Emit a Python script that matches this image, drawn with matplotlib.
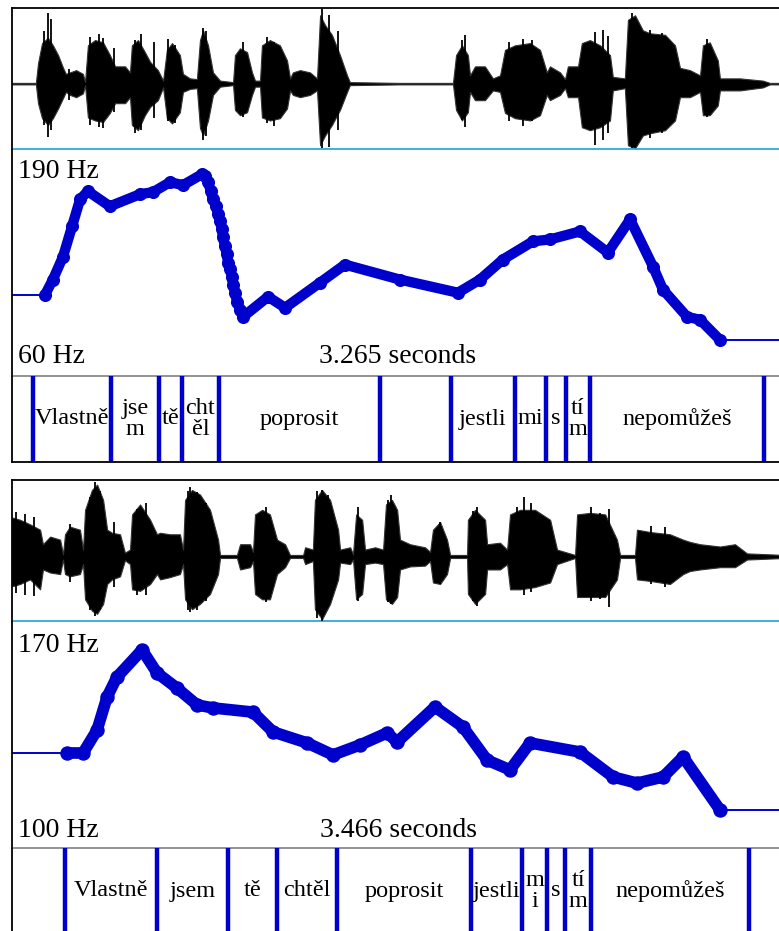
import matplotlib
matplotlib.use("Agg")
import matplotlib.pyplot as plt
import numpy as np

# ---------------- DATA ----------------
# Panel 1 (duration 3.265 s, pitch 60-190 Hz)
dur1 = 3.265
f0_range1 = (60, 190)
wave1_t = [0, 0.101, 0.110, 0.127, 0.152, 0.173, 0.195, 0.216, 0.228, 0.245, 0.271, 0.300, 0.309,
           0.321, 0.351, 0.385, 0.414, 0.436, 0.478, 0.499, 0.507, 0.533, 0.562, 0.584, 0.617, 0.639,
           0.655, 0.677, 0.710, 0.723, 0.753, 0.782, 0.795, 0.808, 0.829, 0.850, 0.880, 0.935, 0.943,
           0.964, 0.994, 1.015, 1.028, 1.049, 1.057, 1.091, 1.133, 1.163, 1.176, 1.188, 1.218, 1.260,
           1.290, 1.303, 1.324, 1.353, 1.387, 1.417, 1.429, 1.641, 1.865, 1.878, 1.903, 1.928, 1.937,
           1.958, 2.000, 2.034, 2.064, 2.085, 2.127, 2.191, 2.233, 2.262, 2.275, 2.318, 2.339, 2.351,
           2.394, 2.410, 2.444, 2.487, 2.529, 2.541, 2.592, 2.605, 2.635, 2.668, 2.698, 2.762, 2.804,
           2.825, 2.867, 2.910, 2.922, 2.951, 2.985, 2.994, 3.079, 3.176, 3.205, 3.265]
wave1_hi = [0.01, 0.01, 0.27, 0.54, 0.61, 0.51, 0.38, 0.21, 0.13, 0.15, 0.18, 0.13, 0.02,
            0.51, 0.58, 0.55, 0.38, 0.23, 0.23, 0.15, 0.51, 0.58, 0.42, 0.29, 0.18, 0.04,
            0.45, 0.54, 0.38, 0.13, 0.07, 0.06, 0.58, 0.71, 0.51, 0.15, 0.04, 0.02, 0.38,
            0.47, 0.42, 0.15, 0.04, 0.04, 0.51, 0.58, 0.51, 0.31, 0.07, 0.15, 0.18, 0.15,
            0.07, 0.91, 0.78, 0.65, 0.38, 0.11, 0.02, 0.01, 0.01, 0.38, 0.51, 0.38, 0.11,
            0.23, 0.23, 0.07, 0.11, 0.45, 0.51, 0.54, 0.45, 0.15, 0.23, 0.15, 0.06, 0.23,
            0.23, 0.54, 0.58, 0.51, 0.38, 0.09, 0.07, 0.85, 0.91, 0.71, 0.67, 0.65, 0.51,
            0.21, 0.18, 0.11, 0.51, 0.55, 0.31, 0.07, 0.07, 0.04, 0.01, 0.01]
wave1_lo = [-0.01, -0.01, -0.26, -0.46, -0.55, -0.46, -0.33, -0.19, -0.11, -0.15, -0.18, -0.13, -0.02,
            -0.45, -0.49, -0.51, -0.39, -0.26, -0.26, -0.18, -0.55, -0.62, -0.42, -0.31, -0.22, -0.05,
            -0.46, -0.53, -0.38, -0.11, -0.07, -0.06, -0.59, -0.69, -0.49, -0.15, -0.04, -0.02, -0.35,
            -0.42, -0.38, -0.15, -0.04, -0.04, -0.45, -0.49, -0.46, -0.33, -0.09, -0.15, -0.18, -0.15,
            -0.09, -0.82, -0.69, -0.55, -0.35, -0.11, -0.02, -0.01, -0.01, -0.35, -0.49, -0.38, -0.11,
            -0.22, -0.22, -0.09, -0.11, -0.39, -0.46, -0.49, -0.42, -0.15, -0.22, -0.15, -0.06, -0.18,
            -0.18, -0.58, -0.62, -0.58, -0.49, -0.09, -0.06, -0.82, -0.86, -0.69, -0.66, -0.62, -0.49,
            -0.18, -0.18, -0.11, -0.42, -0.42, -0.29, -0.09, -0.09, -0.05, -0.01, -0.01]
spike1_t = [0.135, 0.152, 0.165, 0.240, 0.330, 0.370, 0.385, 0.430, 0.520, 0.545, 0.600, 0.660,
            0.690, 0.808, 0.820, 0.975, 1.080, 1.110, 1.311, 1.340, 1.380, 1.905, 1.916, 2.100,
            2.160, 2.200, 2.466, 2.500, 2.520, 2.622, 2.700, 2.740, 2.749, 2.940]
spike1_hi = [0.70, 0.94, 0.86, 0.20, 0.62, 0.66, 0.61, 0.48, 0.58, 0.66, 0.55, 0.60,
             0.52, 0.74, 0.70, 0.55, 0.62, 0.56, 1.00, 0.92, 0.70, 0.58, 0.65, 0.56,
             0.60, 0.58, 0.69, 0.72, 0.64, 0.94, 0.72, 0.64, 0.67, 0.60]
spike1_lo = [-0.55, -0.71, -0.62, -0.22, -0.55, -0.58, -0.59, -0.38, -0.66, -0.62, -0.46, -0.50,
             -0.52, -0.75, -0.70, -0.45, -0.52, -0.56, -0.86, -0.84, -0.62, -0.48, -0.58, -0.50,
             -0.56, -0.50, -0.82, -0.75, -0.66, -0.86, -0.72, -0.62, -0.66, -0.45]

f0_1_t = [0.140, 0.173, 0.216, 0.254, 0.288, 0.321, 0.414, 0.541, 0.596, 0.668, 0.723, 0.804,
          0.816, 0.829, 0.841, 0.850, 0.863, 0.871, 0.880, 0.888, 0.892, 0.901, 0.909, 0.913,
          0.922, 0.930, 0.935, 0.943, 0.952, 0.964, 0.977, 1.083, 1.155, 1.303, 1.408, 1.641,
          1.886, 1.979, 2.076, 2.203, 2.275, 2.402, 2.520, 2.614, 2.711, 2.753, 2.855, 2.910, 2.994]
f0_1_hz = [106.6, 115.2, 128.4, 145.7, 161.2, 165.8, 157.2, 164.1, 165.3, 171.0, 169.3, 175.6,
           174.5, 171.0, 165.8, 161.2, 157.2, 152.6, 148.6, 144.0, 139.4, 134.2, 129.6, 125.0,
           121.0, 116.9, 112.3, 107.7, 102.6, 98.0, 93.9, 105.4, 99.1, 113.5, 123.8, 115.2,
           107.7, 115.2, 126.7, 137.1, 138.2, 142.8, 130.7, 149.7, 122.7, 109.5, 93.9, 92.2, 80.7]

tg1_bounds = [0.0888, 0.4187, 0.6217, 0.7189, 0.8754, 1.5563, 1.8565, 2.1272, 2.2583, 2.3428, 2.4443, 3.1802]
tg1_labels = ["Vlastně", "jse\nm", "tě", "cht\něl", "poprosit", "", "jestli", "mi", "s", "tí\nm", "nepomůžeš"]

# Panel 2 (duration 3.466 s, pitch 100-170 Hz)
dur2 = 3.466
f0_range2 = (100, 170)
wave2_t = [0, 0.036, 0.081, 0.126, 0.139, 0.171, 0.216, 0.229, 0.238, 0.260, 0.305, 0.319, 0.328,
           0.359, 0.382, 0.409, 0.427, 0.449, 0.485, 0.507, 0.530, 0.539, 0.575, 0.620, 0.651, 0.665,
           0.709, 0.754, 0.768, 0.777, 0.808, 0.844, 0.889, 0.925, 0.934, 1.010, 1.024, 1.069, 1.082,
           1.091, 1.123, 1.158, 1.190, 1.226, 1.248, 1.307, 1.316, 1.351, 1.360, 1.392, 1.428, 1.464,
           1.473, 1.518, 1.531, 1.545, 1.572, 1.585, 1.630, 1.666, 1.679, 1.706, 1.729, 1.742, 1.787,
           1.854, 1.877, 1.890, 1.922, 1.953, 1.967, 2.043, 2.047, 2.079, 2.124, 2.133, 2.191, 2.223,
           2.236, 2.281, 2.348, 2.416, 2.447, 2.528, 2.537, 2.595, 2.663, 2.716, 2.730, 2.797, 2.806,
           2.865, 2.954, 3.013, 3.044, 3.089, 3.179, 3.246, 3.300, 3.466]
wave2_hi = [0.51, 0.48, 0.42, 0.35, 0.16, 0.26, 0.22, 0.03, 0.29, 0.39, 0.35, 0.09, 0.61,
            0.87, 0.94, 0.74, 0.35, 0.31, 0.29, 0.05, 0.09, 0.55, 0.68, 0.48, 0.29, 0.31,
            0.29, 0.29, 0.09, 0.74, 0.87, 0.81, 0.61, 0.22, 0.02, 0.02, 0.16, 0.16, 0.06,
            0.55, 0.61, 0.55, 0.22, 0.16, 0.02, 0.02, 0.12, 0.09, 0.74, 0.87, 0.74, 0.35,
            0.09, 0.12, 0.03, 0.55, 0.48, 0.09, 0.12, 0.09, 0.68, 0.74, 0.61, 0.22, 0.16,
            0.12, 0.06, 0.35, 0.45, 0.22, 0.02, 0.02, 0.48, 0.61, 0.48, 0.16, 0.18, 0.09,
            0.55, 0.61, 0.61, 0.48, 0.09, 0.02, 0.55, 0.57, 0.55, 0.22, 0.02, 0.02, 0.35,
            0.32, 0.29, 0.22, 0.19, 0.16, 0.13, 0.16, 0.04, 0.02]
wave2_lo = [-0.39, -0.36, -0.30, -0.43, -0.17, -0.21, -0.23, -0.04, -0.23, -0.26, -0.23, -0.10, -0.56,
            -0.71, -0.75, -0.62, -0.36, -0.30, -0.26, -0.05, -0.10, -0.43, -0.45, -0.36, -0.23, -0.30,
            -0.27, -0.23, -0.10, -0.56, -0.69, -0.62, -0.49, -0.23, -0.02, -0.02, -0.17, -0.14, -0.06,
            -0.49, -0.56, -0.56, -0.23, -0.14, -0.02, -0.02, -0.10, -0.06, -0.69, -0.82, -0.62, -0.30,
            -0.08, -0.10, -0.04, -0.56, -0.49, -0.10, -0.08, -0.10, -0.56, -0.62, -0.53, -0.17, -0.13,
            -0.12, -0.06, -0.34, -0.36, -0.23, -0.02, -0.02, -0.49, -0.62, -0.49, -0.17, -0.17, -0.10,
            -0.43, -0.43, -0.40, -0.34, -0.10, -0.02, -0.53, -0.53, -0.53, -0.30, -0.02, -0.02, -0.30,
            -0.32, -0.36, -0.23, -0.19, -0.17, -0.14, -0.14, -0.04, -0.02]
spike2_t = [0.020, 0.060, 0.100, 0.260, 0.350, 0.373, 0.395, 0.460, 0.560, 0.600, 0.790, 0.799,
            0.830, 0.870, 1.140, 1.370, 1.392, 1.420, 1.554, 1.688, 1.700, 1.922, 2.070, 2.088,
            2.267, 2.300, 2.330, 2.600, 2.640, 2.680, 2.870, 2.930]
spike2_hi = [0.58, 0.56, 0.52, 0.42, 0.78, 0.97, 0.86, 0.45, 0.62, 0.70, 0.86, 0.91,
             0.84, 0.70, 0.65, 0.86, 0.87, 0.80, 0.65, 0.74, 0.80, 0.45, 0.60, 0.65,
             0.65, 0.78, 0.70, 0.65, 0.57, 0.62, 0.40, 0.38]
spike2_lo = [-0.48, -0.50, -0.52, -0.34, -0.70, -0.78, -0.70, -0.40, -0.50, -0.50, -0.70, -0.73,
             -0.70, -0.58, -0.60, -0.80, -0.84, -0.66, -0.58, -0.60, -0.62, -0.36, -0.58, -0.65,
             -0.43, -0.50, -0.46, -0.58, -0.56, -0.66, -0.36, -0.40]

f0_2_t = [0.247, 0.319, 0.382, 0.427, 0.471, 0.584, 0.651, 0.741, 0.831, 0.902, 1.082, 1.172,
          1.325, 1.441, 1.563, 1.684, 1.729, 1.899, 2.025, 2.133, 2.236, 2.326, 2.550, 2.699,
          2.806, 2.923, 3.013, 3.179]
f0_2_hz = [129.3, 129.3, 136.4, 146.6, 152.7, 161.1, 154.0, 149.3, 144.1, 143.2, 141.9, 135.8,
           132.4, 128.7, 131.8, 135.5, 132.7, 143.5, 137.3, 127.1, 124.1, 132.4, 129.6, 121.9,
           120.0, 121.9, 128.1, 111.7]

tg2_bounds = [0.238, 0.651, 0.970, 1.190, 1.459, 2.061, 2.290, 2.402, 2.483, 2.600, 3.309]
tg2_labels = ["Vlastně", "jsem", "tě", "chtěl", "poprosit", "jestli", "m\ni", "s", "tí\nm", "nepomůžeš"]

# ---------------- STYLE / LAYOUT ----------------
W, H = 779, 931
BLUE = "#0000cc"
SERIF = ["Liberation Serif", "DejaVu Serif"]
plt.rcParams["font.family"] = SERIF

fig = plt.figure(figsize=(W / 100, H / 100), dpi=100)

X0, X1 = 12, 784


def add_ax(ytop, ybot):
    return fig.add_axes([X0 / W, 1 - ybot / H, (X1 - X0) / W, (ybot - ytop) / H])


def style(ax, top=None, bottom=None, left="black"):
    ax.set_xticks([])
    ax.set_yticks([])
    ax.patch.set_alpha(0)
    for side, col in (("top", top), ("bottom", bottom), ("left", left), ("right", None)):
        if col is None:
            ax.spines[side].set_visible(False)
        else:
            ax.spines[side].set_color(col)
            ax.spines[side].set_linewidth(1.3)


def draw_panel(y0, dur, frange, wt, whi, wlo, st, shi, slo, ft, fhz, bounds, labels,
               wave_lims, lw_f0, label_top, label_bot):
    # waveform
    axw = add_ax(y0, y0 + 141)
    style(axw, top="black", bottom="#30a8dc")
    axw.axhline(0, color="#7cc4e4", lw=0.7, zorder=1)
    axw.fill_between(wt, wlo, whi, color="black", lw=0.8, edgecolor="#333333", zorder=2)
    axw.vlines(st, slo, shi, color="black", lw=1.3, zorder=3)
    axw.set_xlim(0, dur)
    axw.set_ylim(*wave_lims)

    # pitch
    axp = add_ax(y0 + 141, y0 + 368)
    style(axp, bottom="#8a8a8a")
    axp.set_xlim(0, dur)
    axp.set_ylim(*frange)
    axp.plot([0, ft[0]], [fhz[0], fhz[0]], color=BLUE, lw=1.4)
    axp.plot([ft[-1], dur], [fhz[-1], fhz[-1]], color=BLUE, lw=1.4)
    axp.plot(ft, fhz, color=BLUE, lw=lw_f0, solid_capstyle="round", solid_joinstyle="round",
             marker="o", ms=lw_f0 + 1.0, mfc=BLUE, mec=BLUE)
    axp.text(6 / (X1 - X0), label_top, f"{frange[1]} Hz", transform=axp.transAxes,
             fontsize=20, va="center", ha="left")
    axp.text(6 / (X1 - X0), label_bot, f"{frange[0]} Hz", transform=axp.transAxes,
             fontsize=20, va="center", ha="left")
    axp.text(0.5, label_bot, f"{dur:.3f} seconds", transform=axp.transAxes,
             fontsize=20, va="center", ha="center")

    # textgrid
    axt = add_ax(y0 + 368, y0 + 454)
    style(axt, bottom="black")
    axt.set_xlim(0, dur)
    axt.set_ylim(0, 1)
    for b in bounds:
        axt.axvline(b, color=BLUE, lw=3.2)
    for a, b, lab in zip(bounds[:-1], bounds[1:], labels):
        if lab:
            axt.text((a + b) / 2, 0.5, lab, fontsize=17.5, ha="center", va="center",
                     linespacing=0.95)


draw_panel(8, dur1, f0_range1, wave1_t, wave1_hi, wave1_lo, spike1_t, spike1_hi, spike1_lo,
           f0_1_t, f0_1_hz, tg1_bounds, tg1_labels, (-0.87, 1.007), 7.4, 0.900, 0.084)
draw_panel(480, dur2, f0_range2, wave2_t, wave2_hi, wave2_lo, spike2_t, spike2_hi, spike2_lo,
           f0_2_t, f0_2_hz, tg2_bounds, tg2_labels, (-0.844, 1.0), 8.4, 0.890, 0.079)

fig.savefig("out.png", dpi=100)
